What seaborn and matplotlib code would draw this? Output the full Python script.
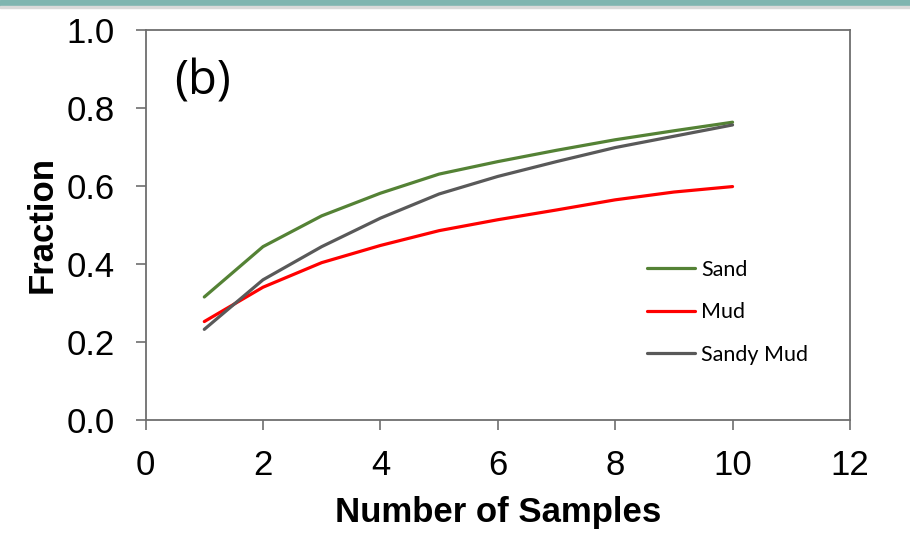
import pandas as pd
import matplotlib.pyplot as plt
import seaborn as sns
from matplotlib.patches import Rectangle

sns.set_theme(style="white")
plt.rcParams['text.color'] = 'black'
plt.rcParams['axes.labelcolor'] = 'black'
plt.rcParams['xtick.color'] = 'black'
plt.rcParams['ytick.color'] = 'black'

# data
n_samples = [1, 2, 3, 4, 5, 6, 7, 8, 9, 10]
sand = [0.315, 0.444, 0.523, 0.581, 0.630, 0.662, 0.691, 0.718, 0.741, 0.763]
mud = [0.252, 0.340, 0.403, 0.447, 0.485, 0.513, 0.538, 0.564, 0.584, 0.598]
sandy_mud = [0.232, 0.359, 0.444, 0.517, 0.579, 0.624, 0.662, 0.698, 0.727, 0.756]

series_names = ['Sand', 'Mud', 'Sandy Mud']
series_colors = ['#548235', '#ff0000', '#595959']

frames = []
for name, vals in zip(series_names, [sand, mud, sandy_mud]):
    frames.append(pd.DataFrame({'x': n_samples, 'y': vals, 'type': name}))
data = pd.concat(frames, ignore_index=True)

fig = plt.figure(figsize=(9.1, 5.51), dpi=100)
ax = fig.add_axes([0.160, 0.238, 0.774, 0.708])

sns.lineplot(data=data, x='x', y='y', hue='type', hue_order=series_names,
             palette=series_colors, linewidth=2.3, ax=ax)

ax.set_xlim(0, 12)
ax.set_ylim(0, 1.0)
ax.set_xticks(range(0, 13, 2))
ax.set_yticks([0.0, 0.2, 0.4, 0.6, 0.8, 1.0])
ax.set_yticklabels(['0.0', '0.2', '0.4', '0.6', '0.8', '1.0'])

for sp in ax.spines.values():
    sp.set_color('#6e6e6e')
    sp.set_linewidth(1.3)
ax.tick_params(direction='out', length=7, width=1.2, color='#6e6e6e',
               labelsize=25, bottom=True, left=True)
ax.tick_params(axis='x', pad=14)
ax.tick_params(axis='y', pad=15)
for lab in ax.get_xticklabels() + ax.get_yticklabels():
    lab.set_family('Liberation Sans')

ax.set_xlabel('Number of Samples', fontsize=25, fontweight='bold',
              family='Liberation Sans', labelpad=10)
ax.set_ylabel('Fraction', fontsize=25, fontweight='bold',
              family='Liberation Sans', labelpad=6)

ax.text(0.04, 0.835, '(b)', transform=ax.transAxes, fontsize=34,
        family='Open Sans')

leg = ax.legend(loc='upper left', bbox_to_anchor=(0.685, 0.46), frameon=False,
                handlelength=2.2, handletextpad=0.3, labelspacing=1.05,
                prop={'family': 'Lato', 'size': 15.5})
for line in leg.get_lines():
    line.set_linewidth(2.3)

# thin teal band at the very top of the slide
fig.patches.append(Rectangle((0, 0.99), 1, 0.01, transform=fig.transFigure,
                             color='#7fb5b0', zorder=0))
fig.patches.append(Rectangle((0, 0.985), 1, 0.005, transform=fig.transFigure,
                             color='#d9d9d9', zorder=0))

fig.savefig('out.png', dpi=100)
